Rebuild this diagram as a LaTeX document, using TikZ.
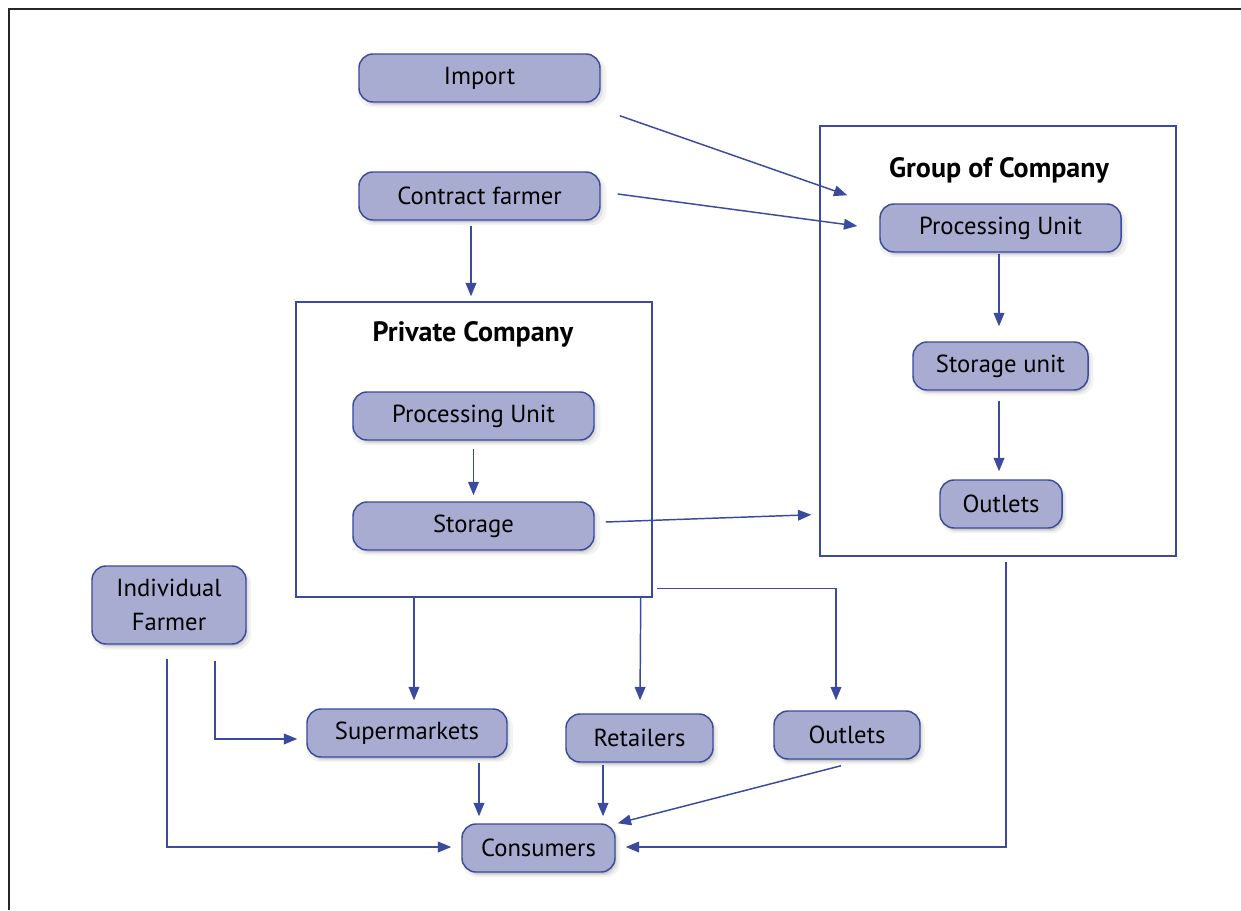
\documentclass[tikz,border=0pt]{standalone}
\usepackage{fontspec}
\setmainfont{PT Sans}
\usetikzlibrary{arrows.meta,shadows,calc}
\newdimen\upx \upx=0.75pt
\definecolor{boxfill}{HTML}{A9ACD1}
\definecolor{boxline}{HTML}{3A4A9E}
\definecolor{flowcol}{HTML}{3A4A9E}
\begin{document}
\begin{tikzpicture}[x=0.75pt,y=-0.75pt,
  soft shadow/.style={
    drop shadow={shadow xshift=2pt, shadow yshift=-3.2pt, opacity=0.05, fill=black, shadow scale=1.03},
    drop shadow={shadow xshift=2pt, shadow yshift=-2.6pt, opacity=0.08, fill=black},
    drop shadow={shadow xshift=1.6pt, shadow yshift=-2pt, opacity=0.10, fill=black, shadow scale=0.98}},
  pill/.style={draw=boxline, fill=boxfill, rounded corners=14\upx, line width=1.1pt,
    inner sep=0pt, minimum height=48\upx, align=center,
    font=\fontsize{18.5}{26}\selectfont, soft shadow},
  groupbox/.style={draw=boxline, line width=1.1pt, inner sep=0pt},
  grouptitle/.style={font=\bfseries\fontsize{21}{24}\selectfont},
  flow/.style={draw=flowcol, line width=1.1pt, -{Triangle[length=10pt,width=8pt]}}
]
\useasboundingbox (0,0) rectangle (1241,910);
% outer frame (top and left edges only)
\draw[line width=1.4pt, black!85] (9,910) -- (9,9) -- (1241,9);

% company containers
\node[groupbox, minimum width=356\upx, minimum height=295\upx] (pc) at (474,449.5) {};
\node[grouptitle] (pctitle) at (473,334) {Private Company};
\node[groupbox, minimum width=356\upx, minimum height=430\upx] (gc) at (998,341) {};
\node[grouptitle] (gctitle) at (999,170) {Group of Company};

% sources
\node[pill, minimum width=241\upx] (imp) at (479.5,78) {Import};
\node[pill, minimum width=241\upx] (cf) at (479.5,196) {Contract farmer};
\node[pill, minimum width=154\upx, minimum height=78\upx] (ifarm) at (169,605) {Individual\\Farmer};

% inside the private company
\node[pill, minimum width=241\upx] (ppu) at (473.5,416) {Processing Unit};
\node[pill, minimum width=241\upx] (pst) at (473.5,526) {Storage};

% inside the group of company
\node[pill, minimum width=241\upx] (gpu) at (1000.5,228) {Processing Unit};
\node[pill, minimum width=175\upx] (gsu) at (1000.5,366) {Storage unit};
\node[pill, minimum width=122\upx] (gout) at (1001,504) {Outlets};

% sales channels
\node[pill, minimum width=200\upx] (sm) at (407,733) {Supermarkets};
\node[pill, minimum width=147\upx] (ret) at (639.5,738) {Retailers};
\node[pill, minimum width=146\upx] (bout) at (847,735) {Outlets};
\node[pill, minimum width=153\upx] (con) at (538.5,848) {Consumers};

% flows
\draw[flow] ([shift={(19,13)}]imp.south east) -- ([shift={(28,70)}]gc.north west);
\draw[flow] ([shift={(17,-2)}]cf.east) -- ([shift={(-22,-2)}]gpu.west);
\draw[flow] ([shift={(-8.5,5)}]cf.south) -- ([shift={(-3,-5)}]pc.north);
\draw[flow] ([shift={(0,8)}]ppu.south) -- ([shift={(0,-6)}]pst.north);
\draw[flow] ([shift={(11,-4)}]pst.east) -- ([shift={(-8,-42)}]gc.south west);
\draw[flow] ([shift={(-1.5,1)}]gpu.south) -- ([shift={(-1.5,-15)}]gsu.north);
\draw[flow] ([shift={(-1.5,10)}]gsu.south) -- ([shift={(-2,-8)}]gout.north);
\draw[flow] ([shift={(-60,0)}]pc.south) -- ([shift={(7,-8)}]sm.north);
\draw[flow] ([shift={(-12,0)}]pc.south east) -- ([shift={(0.5,-13)}]ret.north);
\draw[flow] ([shift={(4,-9)}]pc.south east) -| ([shift={(-11,-10)}]bout.north);
\draw[flow] ([shift={(46,16)}]ifarm.south) |- ([shift={(-9,6)}]sm.west);
\draw[flow] ([shift={(-2,14)}]ifarm.south) |- ([shift={(-10,-1)}]con.west);
\draw[flow] ([shift={(72,5)}]sm.south) -- ([shift={(-59.5,-7)}]con.north);
\draw[flow] ([shift={(-36.5,2)}]ret.south) -- ([shift={(64.5,-7)}]con.north);
\draw[flow] ([shift={(-6,6)}]bout.south) -- ([shift={(2,0)}]con.north east);
\draw[flow] ([shift={(8,5)}]gc.south) |- ([shift={(10,-1)}]con.east);
\end{tikzpicture}
\end{document}
